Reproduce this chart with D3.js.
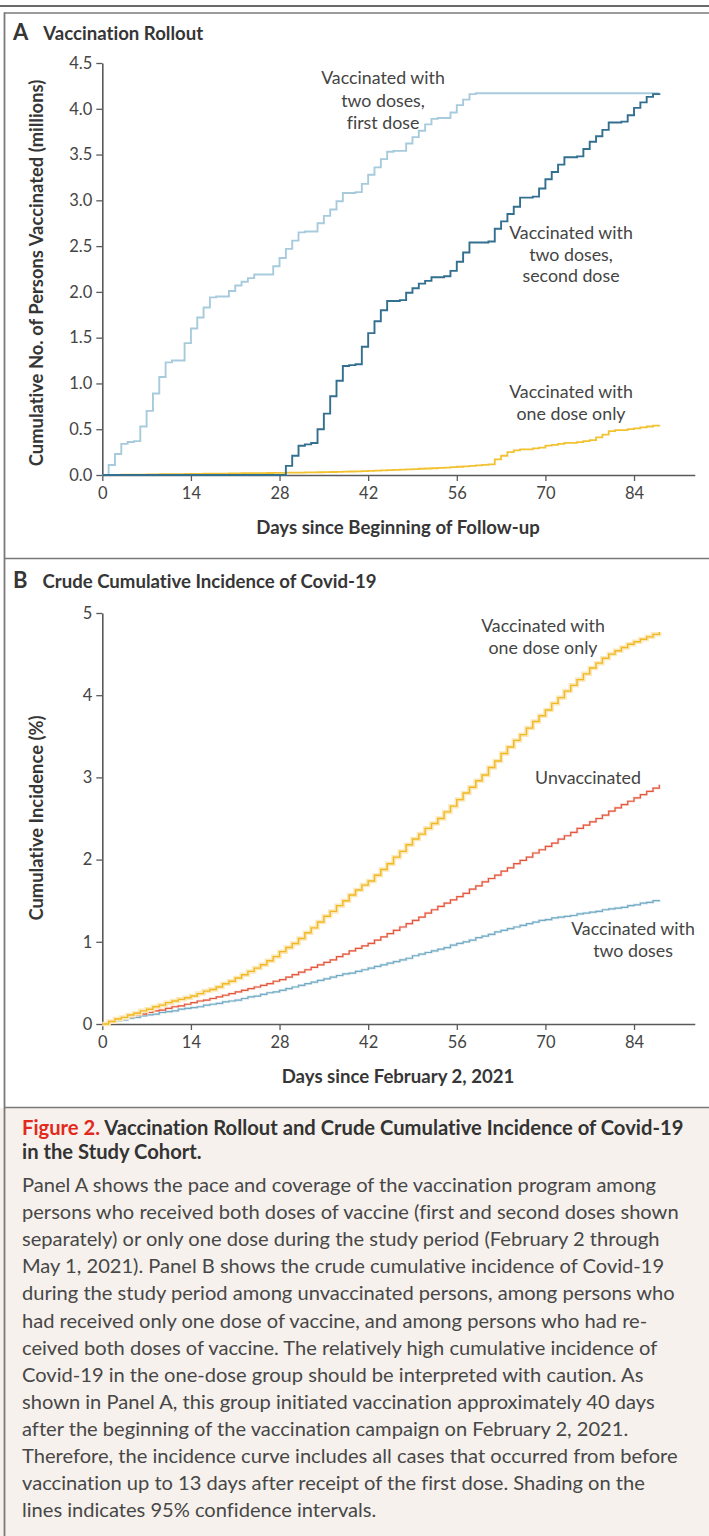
<!DOCTYPE html>
<html>
<head>
<meta charset="utf-8">
<script src="https://cdn.jsdelivr.net/npm/d3@7"></script>
<style>
  html, body { margin: 0; padding: 0; background: #ffffff; }
  svg { display: block; }
  text { font-family: Lato, "Open Sans", sans-serif; font-variant-ligatures: none; }
</style>
</head>
<body>
<svg id="chart" width="709" height="1536"></svg>
<script>
// ---------------- DATA ----------------
const xTicks = [0, 14, 28, 42, 56, 70, 84];
const yTicksA = [0, 0.5, 1, 1.5, 2, 2.5, 3, 3.5, 4, 4.5];
const yTicksB = [0, 1, 2, 3, 4, 5];

// Panel A: cumulative persons vaccinated (millions), one value per day 0..88
const firstDose = [0, 0.11, 0.23, 0.34, 0.36, 0.37, 0.53, 0.70, 0.89, 1.07,
  1.23, 1.25, 1.25, 1.44, 1.60, 1.72, 1.83, 1.94, 1.95, 1.95,
  2.01, 2.07, 2.11, 2.15, 2.19, 2.19, 2.19, 2.28, 2.37, 2.47,
  2.56, 2.65, 2.66, 2.66, 2.75, 2.83, 2.90, 2.99, 3.08, 3.08,
  3.09, 3.18, 3.28, 3.36, 3.45, 3.53, 3.54, 3.54, 3.62, 3.69,
  3.76, 3.83, 3.89, 3.90, 3.90, 3.96, 4.04, 4.10, 4.16, 4.17,
  4.17, 4.17, 4.17, 4.17, 4.17, 4.17, 4.17, 4.17, 4.17, 4.17,
  4.17, 4.17, 4.17, 4.17, 4.17, 4.17, 4.17, 4.17, 4.17, 4.17,
  4.17, 4.17, 4.17, 4.17, 4.17, 4.17, 4.17, 4.17, 4.17];
const secondDose = [0, 0, 0, 0, 0, 0, 0, 0, 0, 0,
  0, 0, 0, 0, 0, 0, 0, 0, 0, 0,
  0, 0, 0, 0, 0, 0, 0, 0, 0, 0.10,
  0.21, 0.32, 0.335, 0.35, 0.50, 0.67, 0.86, 1.03, 1.19, 1.20,
  1.21, 1.40, 1.55, 1.68, 1.80, 1.90, 1.90, 1.91, 1.99, 2.04,
  2.09, 2.12, 2.16, 2.16, 2.17, 2.23, 2.33, 2.43, 2.54, 2.54,
  2.54, 2.55, 2.69, 2.77, 2.85, 2.93, 3.03, 3.03, 3.04, 3.13,
  3.23, 3.31, 3.39, 3.47, 3.47, 3.48, 3.56, 3.64, 3.70, 3.77,
  3.85, 3.85, 3.86, 3.93, 4.01, 4.07, 4.13, 4.16, 4.17];
const oneDoseA = [0, 0.001, 0.002, 0.003, 0.003, 0.004, 0.005, 0.006, 0.007, 0.008,
  0.009, 0.009, 0.010, 0.011, 0.012, 0.013, 0.014, 0.015, 0.015, 0.016,
  0.017, 0.018, 0.019, 0.020, 0.020, 0.021, 0.022, 0.023, 0.024, 0.025,
  0.026, 0.027, 0.028, 0.029, 0.030, 0.031, 0.033, 0.034, 0.036, 0.038,
  0.040, 0.042, 0.045, 0.047, 0.050, 0.053, 0.056, 0.059, 0.062, 0.065,
  0.068, 0.071, 0.074, 0.077, 0.081, 0.085, 0.090, 0.095, 0.100, 0.105,
  0.110, 0.115, 0.17, 0.21, 0.25, 0.27, 0.28, 0.28, 0.29, 0.30,
  0.32, 0.33, 0.34, 0.35, 0.35, 0.36, 0.37, 0.38, 0.41, 0.44,
  0.48, 0.49, 0.49, 0.50, 0.51, 0.52, 0.53, 0.54, 0.545];

// Panel B: crude cumulative incidence (%), one value per day 0..88
const oneDoseB = [0.00, 0.03, 0.06, 0.08, 0.11, 0.13, 0.16, 0.18, 0.21, 0.23,
  0.26, 0.28, 0.30, 0.32, 0.34, 0.37, 0.40, 0.42, 0.45, 0.49,
  0.52, 0.56, 0.60, 0.64, 0.68, 0.72, 0.77, 0.82, 0.88, 0.93,
  0.98, 1.04, 1.11, 1.17, 1.24, 1.31, 1.37, 1.44, 1.50, 1.57,
  1.63, 1.69, 1.74, 1.81, 1.88, 1.95, 2.03, 2.10, 2.18, 2.25,
  2.31, 2.38, 2.44, 2.50, 2.58, 2.65, 2.73, 2.81, 2.88, 2.96,
  3.03, 3.12, 3.20, 3.29, 3.37, 3.45, 3.52, 3.60, 3.68, 3.75,
  3.82, 3.90, 3.97, 4.05, 4.12, 4.19, 4.26, 4.33, 4.39, 4.45,
  4.50, 4.54, 4.58, 4.62, 4.65, 4.68, 4.71, 4.74, 4.77];
const unvaccinated = [0.00, 0.02, 0.05, 0.07, 0.09, 0.11, 0.12, 0.14, 0.16, 0.17,
  0.19, 0.21, 0.22, 0.24, 0.26, 0.28, 0.29, 0.31, 0.33, 0.35,
  0.37, 0.39, 0.41, 0.43, 0.45, 0.47, 0.49, 0.52, 0.54, 0.57,
  0.60, 0.63, 0.66, 0.69, 0.72, 0.75, 0.78, 0.82, 0.85, 0.89,
  0.92, 0.95, 0.98, 1.02, 1.06, 1.10, 1.14, 1.18, 1.22, 1.26,
  1.30, 1.35, 1.39, 1.43, 1.47, 1.51, 1.55, 1.59, 1.64, 1.68,
  1.73, 1.77, 1.81, 1.86, 1.90, 1.95, 1.99, 2.03, 2.08, 2.12,
  2.16, 2.20, 2.25, 2.29, 2.33, 2.38, 2.42, 2.46, 2.50, 2.54,
  2.59, 2.63, 2.67, 2.71, 2.75, 2.79, 2.83, 2.87, 2.91];
const twoDoses = [0.00, 0.02, 0.04, 0.05, 0.07, 0.08, 0.10, 0.11, 0.12, 0.14,
  0.15, 0.16, 0.18, 0.19, 0.20, 0.21, 0.23, 0.24, 0.25, 0.27,
  0.28, 0.29, 0.31, 0.33, 0.34, 0.36, 0.38, 0.39, 0.41, 0.43,
  0.45, 0.47, 0.49, 0.51, 0.53, 0.55, 0.57, 0.59, 0.61, 0.62,
  0.64, 0.66, 0.68, 0.70, 0.72, 0.74, 0.76, 0.78, 0.80, 0.83,
  0.85, 0.87, 0.89, 0.91, 0.93, 0.96, 0.98, 1.00, 1.02, 1.05,
  1.07, 1.09, 1.12, 1.14, 1.16, 1.18, 1.20, 1.22, 1.24, 1.26,
  1.27, 1.29, 1.30, 1.31, 1.32, 1.34, 1.35, 1.36, 1.37, 1.39,
  1.40, 1.41, 1.42, 1.44, 1.45, 1.47, 1.48, 1.50, 1.51];

const captionTitleRed = "Figure 2.";
const captionTitle1 = "Vaccination Rollout and Crude Cumulative Incidence of Covid-19";
const captionTitle2 = "in the Study Cohort.";
const captionBody = [
  "Panel A shows the pace and coverage of the vaccination program among",
  "persons who received both doses of vaccine (first and second doses shown",
  "separately) or only one dose during the study period (February 2 through",
  "May 1, 2021). Panel B shows the crude cumulative incidence of Covid-19",
  "during the study period among unvaccinated persons, among persons who",
  "had received only one dose of vaccine, and among persons who had re-",
  "ceived both doses of vaccine. The relatively high cumulative incidence of",
  "Covid-19 in the one-dose group should be interpreted with caution. As",
  "shown in Panel A, this group initiated vaccination approximately 40 days",
  "after the beginning of the vaccination campaign on February 2, 2021.",
  "Therefore, the incidence curve includes all cases that occurred from before",
  "vaccination up to 13 days after receipt of the first dose. Shading on the",
  "lines indicates 95% confidence intervals."
];

// ---------------- DRAWING ----------------
const svg = d3.select("#chart");
const FRAME = "#7a7a7a";
const AXIS = "#5a5a5a";
const TXT = "#363636";

// frame
svg.append("rect").attr("x", 0).attr("y", 1108).attr("width", 709).attr("height", 428).attr("fill", "#f6f1ec");
svg.append("line").attr("x1", 0).attr("x2", 709).attr("y1", 6).attr("y2", 6).attr("stroke", "#6a6a6a").attr("stroke-width", 2.2);
svg.append("line").attr("x1", 4.5).attr("x2", 709).attr("y1", 13).attr("y2", 13).attr("stroke", FRAME).attr("stroke-width", 1.6);
svg.append("line").attr("x1", 4.5).attr("x2", 709).attr("y1", 558.5).attr("y2", 558.5).attr("stroke", FRAME).attr("stroke-width", 1.6);
svg.append("line").attr("x1", 4.5).attr("x2", 709).attr("y1", 1107.5).attr("y2", 1107.5).attr("stroke", FRAME).attr("stroke-width", 1.6);
svg.append("line").attr("x1", 4.5).attr("x2", 4.5).attr("y1", 12.2).attr("y2", 1536).attr("stroke", FRAME).attr("stroke-width", 1.8);

const days = firstDose.map((_, i) => i);
const x = d3.scaleLinear().domain([0, 93.6]).range([102.3, 694.8]);
const yA = d3.scaleLinear().domain([0, 4.5]).range([475, 63]);
const yB = d3.scaleLinear().domain([0, 5]).range([1024, 613]);

function panelTitle(letter, title, y) {
  const t = svg.append("text").attr("x", 13).attr("y", y).attr("fill", TXT);
  t.append("tspan").attr("font-weight", 700).attr("font-size", 22).text(letter);
  t.append("tspan").attr("dx", 15).attr("font-weight", 700).attr("font-size", 18.6).text(title);
}
panelTitle("A", "Vaccination Rollout", 40);
panelTitle("B", "Crude Cumulative Incidence of Covid-19", 588);

function styleAxis(g) {
  g.selectAll(".domain").attr("stroke", AXIS).attr("stroke-width", 1.6);
  g.selectAll(".tick line").attr("stroke", AXIS).attr("stroke-width", 1.3);
  g.selectAll(".tick text").attr("fill", "#444").attr("font-size", 16.5).attr("font-family", "Lato, sans-serif");
}

function drawAxes(y, yTicks, fmt, xLabel, yLabel, yLabelCenter) {
  const gx = svg.append("g").attr("transform", `translate(0,${y(0)})`)
    .call(d3.axisBottom(x).tickValues(xTicks).tickSize(6).tickSizeOuter(0).tickPadding(6).tickFormat(d3.format("d")));
  styleAxis(gx);
  const gy = svg.append("g").attr("transform", `translate(${x(0)},0)`)
    .call(d3.axisLeft(y).tickValues(yTicks).tickSize(6).tickSizeOuter(0).tickPadding(4).tickFormat(fmt));
  styleAxis(gy);
  svg.append("text").attr("x", 398).attr("y", y(0) + 59).attr("text-anchor", "middle")
    .attr("font-size", 18.6).attr("font-weight", 700).attr("fill", TXT).text(xLabel);
  svg.append("text").attr("transform", `translate(43,${yLabelCenter}) rotate(-90)`).attr("text-anchor", "middle")
    .attr("font-size", 18.4).attr("font-weight", 700).attr("fill", TXT).text(yLabel);
}

drawAxes(yA, yTicksA, d3.format(".1f"), "Days since Beginning of Follow-up", "Cumulative No. of Persons Vaccinated (millions)", 273);
drawAxes(yB, yTicksB, d3.format("d"), "Days since February 2, 2021", "Cumulative Incidence (%)", 818);

function stepLine(values, y) {
  return d3.line().x((d, i) => x(days[i])).y(d => y(d)).curve(d3.curveStepAfter)(values);
}

// Panel A lines
svg.append("path").attr("d", stepLine(oneDoseA, yA)).attr("fill", "none").attr("stroke", "#f2c230").attr("stroke-width", 1.8);
svg.append("path").attr("d", stepLine(firstDose, yA)).attr("fill", "none").attr("stroke", "#a7cbdd").attr("stroke-width", 1.9);
svg.append("path").attr("d", stepLine(secondDose, yA)).attr("fill", "none").attr("stroke", "#336f8e").attr("stroke-width", 1.9);

// Panel B lines with confidence shading
svg.append("path").attr("d", stepLine(twoDoses, yB)).attr("fill", "none").attr("stroke", "#d8e8ef").attr("stroke-width", 2.6);
svg.append("path").attr("d", stepLine(twoDoses, yB)).attr("fill", "none").attr("stroke", "#72abc3").attr("stroke-width", 1.2);
svg.append("path").attr("d", stepLine(unvaccinated, yB)).attr("fill", "none").attr("stroke", "#f8d3ca").attr("stroke-width", 2.4);
svg.append("path").attr("d", stepLine(unvaccinated, yB)).attr("fill", "none").attr("stroke", "#e4573f").attr("stroke-width", 1.2);
svg.append("path").attr("d", stepLine(oneDoseB, yB)).attr("fill", "none").attr("stroke", "#fae9bb").attr("stroke-width", 4.5);
svg.append("path").attr("d", stepLine(oneDoseB, yB)).attr("fill", "none").attr("stroke", "#f2b824").attr("stroke-width", 1.4);

// annotations
function label(lines, cx, y0, dy) {
  const t = svg.append("text").attr("text-anchor", "middle").attr("font-size", 17.8).attr("fill", "#444");
  lines.forEach((s, i) => t.append("tspan").attr("x", cx).attr("y", y0 + i * dy).text(s));
}
label(["Vaccinated with", "two doses,", "first dose"], 383, 84, 22.5);
label(["Vaccinated with", "two doses,", "second dose"], 571, 239, 21.5);
label(["Vaccinated with", "one dose only"], 571, 398, 21.5);
label(["Vaccinated with", "one dose only"], 543, 632, 22);
label(["Unvaccinated"], 588, 784, 22);
label(["Vaccinated with", "two doses"], 633, 935, 22);

// caption
const ct = svg.append("text").attr("x", 22).attr("y", 1135).attr("font-size", 20.2).attr("font-weight", 700).attr("fill", "#333");
ct.append("tspan").attr("fill", "#e2291c").text(captionTitleRed);
ct.append("tspan").text(" " + captionTitle1);
svg.append("text").attr("x", 22).attr("y", 1159).attr("font-size", 20.2).attr("font-weight", 700).attr("fill", "#333").text(captionTitle2);

svg.append("g").selectAll("text").data(captionBody).join("text")
  .attr("x", 22).attr("y", (d, i) => 1192 + i * 27.1)
  .attr("font-size", 20.1).attr("fill", "#474747").text(d => d);
</script>
</body>
</html>
